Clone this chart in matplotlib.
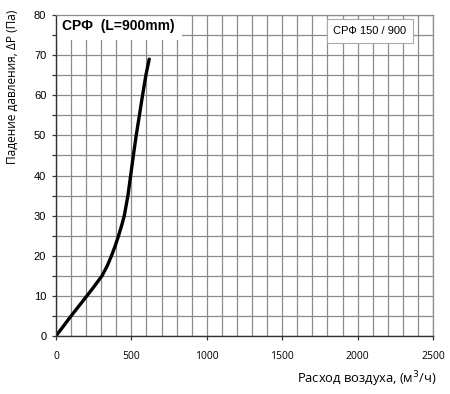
import matplotlib.pyplot as plt
from matplotlib.ticker import MultipleLocator
from matplotlib.patches import Rectangle

# pressure drop curve
flow = [0, 100, 205, 256, 305, 340, 368, 393, 415, 435, 453, 477, 495, 513, 532, 553, 574, 596, 618]
dp = [0, 5, 10, 12.5, 15, 17.5, 20, 22.5, 25, 27.5, 30, 35, 40, 45, 50, 55, 60, 65, 69]

x_ticks = [0, 500, 1000, 1500, 2000, 2500]
y_ticks = [0, 10, 20, 30, 40, 50, 60, 70, 80]

title = "СРФ  (L=900mm)"
model = "СРФ 150 / 900"

fig = plt.figure(figsize=(4.5, 3.94), dpi=100)
ax = fig.add_axes([56/450, 58/394, 377/450, 321/394])

ax.plot(flow, dp, color='black', linewidth=2.4, solid_capstyle='round',
        solid_joinstyle='round', zorder=5)

ax.set_xlim(0, 2500)
ax.set_ylim(0, 80)
ax.set_xticks(x_ticks)
ax.set_yticks(y_ticks)
ax.xaxis.set_minor_locator(MultipleLocator(100))
ax.yaxis.set_minor_locator(MultipleLocator(5))
ax.grid(True, which='both', color='#8c8c8c', linewidth=0.9)
ax.set_axisbelow(True)

for s in ['top', 'right']:
    ax.spines[s].set_color('#8c8c8c')
    ax.spines[s].set_linewidth(0.9)
for s in ['left', 'bottom']:
    ax.spines[s].set_color('#333333')
    ax.spines[s].set_linewidth(1.0)
for s in ax.spines:
    ax.spines[s].set_zorder(7)

ax.tick_params(which='major', direction='out', length=3, width=0.9, color='#333333')
ax.tick_params(axis='x', which='minor', length=0)
ax.tick_params(axis='y', which='minor', direction='out', length=3, width=0.9, color='#333333')
for lab in ax.get_yticklabels():
    lab.set_fontfamily('Liberation Sans')
    lab.set_fontsize(8)
for lab in ax.get_xticklabels():
    lab.set_fontfamily('Open Sans')
    lab.set_fontsize(7.5)
ax.tick_params(axis='x', pad=8)
ax.tick_params(axis='y', pad=4)

ax.set_ylabel("Падение давления, ΔР (Па)", fontfamily='Open Sans', fontsize=8.6)
ax.yaxis.set_label_coords(-0.098, 0.775)
fig.text(436/450, 1 - 379/394, "Расход воздуха, (м$^3$/ч)", ha='right', va='center',
         fontfamily='Open Sans', fontsize=9.3)

# white panel behind the title, covering the grid
ax.add_patch(Rectangle((0, 0.922), 0.334, 0.078, transform=ax.transAxes,
                       facecolor='white', edgecolor='none', zorder=5.5))
ax.text(40, 77.2, title, fontfamily='Liberation Sans', fontweight='bold', fontsize=10,
        ha='left', va='center', zorder=6)
ax.text(1840, 76.0, model, fontfamily='Liberation Sans', fontsize=8,
        ha='left', va='center', zorder=6,
        bbox=dict(boxstyle='square,pad=0.6', facecolor='white', edgecolor='#aaaaaa', linewidth=0.8))

fig.savefig('out.png', dpi=100)
